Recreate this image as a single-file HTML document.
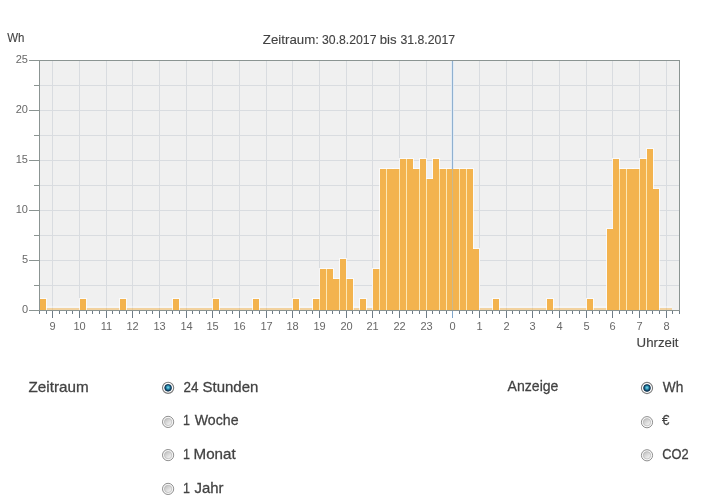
<!DOCTYPE html>
<html><head><meta charset="utf-8"><style>
html,body{margin:0;padding:0;background:#fff;width:716px;height:504px;overflow:hidden}
svg{display:block;will-change:transform;font-family:"Liberation Sans",sans-serif}
</style></head><body>
<svg width="716" height="504" viewBox="0 0 716 504">
<defs>
<radialGradient id="rsel" cx="0.5" cy="0.45" r="0.55"><stop offset="0" stop-color="#86dcec"/><stop offset="0.35" stop-color="#3aa3c2"/><stop offset="0.7" stop-color="#15587c"/><stop offset="1" stop-color="#0a3050"/></radialGradient>
<linearGradient id="runs" x1="0.2" y1="0.1" x2="0.8" y2="0.9"><stop offset="0" stop-color="#c4c4c4"/><stop offset="1" stop-color="#f4f4f4"/></linearGradient>
</defs>
<rect x="39" y="60" width="640" height="250" fill="#f0f0f0" />
<rect x="39" y="285" width="640" height="1" fill="#d9dce0" />
<rect x="39" y="260" width="640" height="1" fill="#d9dce0" />
<rect x="39" y="235" width="640" height="1" fill="#d9dce0" />
<rect x="39" y="210" width="640" height="1" fill="#d9dce0" />
<rect x="39" y="185" width="640" height="1" fill="#d9dce0" />
<rect x="39" y="160" width="640" height="1" fill="#d9dce0" />
<rect x="39" y="135" width="640" height="1" fill="#d9dce0" />
<rect x="39" y="110" width="640" height="1" fill="#d9dce0" />
<rect x="39" y="85" width="640" height="1" fill="#d9dce0" />
<rect x="52" y="60" width="1" height="250" fill="#d9dce0" />
<rect x="79" y="60" width="1" height="250" fill="#d9dce0" />
<rect x="106" y="60" width="1" height="250" fill="#d9dce0" />
<rect x="132" y="60" width="1" height="250" fill="#d9dce0" />
<rect x="159" y="60" width="1" height="250" fill="#d9dce0" />
<rect x="186" y="60" width="1" height="250" fill="#d9dce0" />
<rect x="212" y="60" width="1" height="250" fill="#d9dce0" />
<rect x="239" y="60" width="1" height="250" fill="#d9dce0" />
<rect x="266" y="60" width="1" height="250" fill="#d9dce0" />
<rect x="292" y="60" width="1" height="250" fill="#d9dce0" />
<rect x="319" y="60" width="1" height="250" fill="#d9dce0" />
<rect x="346" y="60" width="1" height="250" fill="#d9dce0" />
<rect x="372" y="60" width="1" height="250" fill="#d9dce0" />
<rect x="399" y="60" width="1" height="250" fill="#d9dce0" />
<rect x="426" y="60" width="1" height="250" fill="#d9dce0" />
<rect x="452" y="60" width="1" height="250" fill="#d9dce0" />
<rect x="479" y="60" width="1" height="250" fill="#d9dce0" />
<rect x="506" y="60" width="1" height="250" fill="#d9dce0" />
<rect x="532" y="60" width="1" height="250" fill="#d9dce0" />
<rect x="559" y="60" width="1" height="250" fill="#d9dce0" />
<rect x="586" y="60" width="1" height="250" fill="#d9dce0" />
<rect x="612" y="60" width="1" height="250" fill="#d9dce0" />
<rect x="639" y="60" width="1" height="250" fill="#d9dce0" />
<rect x="666" y="60" width="1" height="250" fill="#d9dce0" />
<rect x="40" y="306" width="632" height="2" fill="#ffffff" fill-opacity="0.35"/>
<rect x="40" y="308" width="632" height="2" fill="#f3b34e" fill-opacity="0.5"/>
<rect x="39" y="298" width="8" height="12" fill="#ffffff" fill-opacity="0.75"/>
<rect x="79" y="298" width="8" height="12" fill="#ffffff" fill-opacity="0.75"/>
<rect x="119" y="298" width="8" height="12" fill="#ffffff" fill-opacity="0.75"/>
<rect x="172" y="298" width="8" height="12" fill="#ffffff" fill-opacity="0.75"/>
<rect x="212" y="298" width="8" height="12" fill="#ffffff" fill-opacity="0.75"/>
<rect x="252" y="298" width="8" height="12" fill="#ffffff" fill-opacity="0.75"/>
<rect x="292" y="298" width="8" height="12" fill="#ffffff" fill-opacity="0.75"/>
<rect x="312" y="298" width="8" height="12" fill="#ffffff" fill-opacity="0.75"/>
<rect x="319" y="268" width="8" height="42" fill="#ffffff" fill-opacity="0.75"/>
<rect x="326" y="268" width="8" height="42" fill="#ffffff" fill-opacity="0.75"/>
<rect x="332" y="278" width="8" height="32" fill="#ffffff" fill-opacity="0.75"/>
<rect x="339" y="258" width="8" height="52" fill="#ffffff" fill-opacity="0.75"/>
<rect x="346" y="278" width="8" height="32" fill="#ffffff" fill-opacity="0.75"/>
<rect x="359" y="298" width="8" height="12" fill="#ffffff" fill-opacity="0.75"/>
<rect x="372" y="268" width="8" height="42" fill="#ffffff" fill-opacity="0.75"/>
<rect x="379" y="168" width="8" height="142" fill="#ffffff" fill-opacity="0.75"/>
<rect x="386" y="168" width="8" height="142" fill="#ffffff" fill-opacity="0.75"/>
<rect x="392" y="168" width="8" height="142" fill="#ffffff" fill-opacity="0.75"/>
<rect x="399" y="158" width="8" height="152" fill="#ffffff" fill-opacity="0.75"/>
<rect x="406" y="158" width="8" height="152" fill="#ffffff" fill-opacity="0.75"/>
<rect x="412" y="168" width="8" height="142" fill="#ffffff" fill-opacity="0.75"/>
<rect x="419" y="158" width="8" height="152" fill="#ffffff" fill-opacity="0.75"/>
<rect x="426" y="178" width="8" height="132" fill="#ffffff" fill-opacity="0.75"/>
<rect x="432" y="158" width="8" height="152" fill="#ffffff" fill-opacity="0.75"/>
<rect x="439" y="168" width="8" height="142" fill="#ffffff" fill-opacity="0.75"/>
<rect x="446" y="168" width="8" height="142" fill="#ffffff" fill-opacity="0.75"/>
<rect x="452" y="168" width="8" height="142" fill="#ffffff" fill-opacity="0.75"/>
<rect x="459" y="168" width="8" height="142" fill="#ffffff" fill-opacity="0.75"/>
<rect x="466" y="168" width="8" height="142" fill="#ffffff" fill-opacity="0.75"/>
<rect x="472" y="248" width="8" height="62" fill="#ffffff" fill-opacity="0.75"/>
<rect x="492" y="298" width="8" height="12" fill="#ffffff" fill-opacity="0.75"/>
<rect x="546" y="298" width="8" height="12" fill="#ffffff" fill-opacity="0.75"/>
<rect x="586" y="298" width="8" height="12" fill="#ffffff" fill-opacity="0.75"/>
<rect x="606" y="228" width="8" height="82" fill="#ffffff" fill-opacity="0.75"/>
<rect x="612" y="158" width="8" height="152" fill="#ffffff" fill-opacity="0.75"/>
<rect x="619" y="168" width="8" height="142" fill="#ffffff" fill-opacity="0.75"/>
<rect x="626" y="168" width="8" height="142" fill="#ffffff" fill-opacity="0.75"/>
<rect x="632" y="168" width="8" height="142" fill="#ffffff" fill-opacity="0.75"/>
<rect x="639" y="158" width="8" height="152" fill="#ffffff" fill-opacity="0.75"/>
<rect x="646" y="148" width="8" height="162" fill="#ffffff" fill-opacity="0.75"/>
<rect x="652" y="188" width="8" height="122" fill="#ffffff" fill-opacity="0.75"/>
<rect x="40" y="299" width="6" height="11" fill="#f3b34e" />
<rect x="80" y="299" width="6" height="11" fill="#f3b34e" />
<rect x="120" y="299" width="6" height="11" fill="#f3b34e" />
<rect x="173" y="299" width="6" height="11" fill="#f3b34e" />
<rect x="213" y="299" width="6" height="11" fill="#f3b34e" />
<rect x="253" y="299" width="6" height="11" fill="#f3b34e" />
<rect x="293" y="299" width="6" height="11" fill="#f3b34e" />
<rect x="313" y="299" width="6" height="11" fill="#f3b34e" />
<rect x="320" y="269" width="6" height="41" fill="#f3b34e" />
<rect x="327" y="269" width="6" height="41" fill="#f3b34e" />
<rect x="333" y="279" width="6" height="31" fill="#f3b34e" />
<rect x="340" y="259" width="6" height="51" fill="#f3b34e" />
<rect x="347" y="279" width="6" height="31" fill="#f3b34e" />
<rect x="360" y="299" width="6" height="11" fill="#f3b34e" />
<rect x="373" y="269" width="6" height="41" fill="#f3b34e" />
<rect x="380" y="169" width="6" height="141" fill="#f3b34e" />
<rect x="387" y="169" width="6" height="141" fill="#f3b34e" />
<rect x="393" y="169" width="6" height="141" fill="#f3b34e" />
<rect x="400" y="159" width="6" height="151" fill="#f3b34e" />
<rect x="407" y="159" width="6" height="151" fill="#f3b34e" />
<rect x="413" y="169" width="6" height="141" fill="#f3b34e" />
<rect x="420" y="159" width="6" height="151" fill="#f3b34e" />
<rect x="427" y="179" width="6" height="131" fill="#f3b34e" />
<rect x="433" y="159" width="6" height="151" fill="#f3b34e" />
<rect x="440" y="169" width="6" height="141" fill="#f3b34e" />
<rect x="447" y="169" width="6" height="141" fill="#f3b34e" />
<rect x="453" y="169" width="6" height="141" fill="#f3b34e" />
<rect x="460" y="169" width="6" height="141" fill="#f3b34e" />
<rect x="467" y="169" width="6" height="141" fill="#f3b34e" />
<rect x="473" y="249" width="6" height="61" fill="#f3b34e" />
<rect x="493" y="299" width="6" height="11" fill="#f3b34e" />
<rect x="547" y="299" width="6" height="11" fill="#f3b34e" />
<rect x="587" y="299" width="6" height="11" fill="#f3b34e" />
<rect x="607" y="229" width="6" height="81" fill="#f3b34e" />
<rect x="613" y="159" width="6" height="151" fill="#f3b34e" />
<rect x="620" y="169" width="6" height="141" fill="#f3b34e" />
<rect x="627" y="169" width="6" height="141" fill="#f3b34e" />
<rect x="633" y="169" width="6" height="141" fill="#f3b34e" />
<rect x="640" y="159" width="6" height="151" fill="#f3b34e" />
<rect x="647" y="149" width="6" height="161" fill="#f3b34e" />
<rect x="653" y="189" width="6" height="121" fill="#f3b34e" />
<rect x="319" y="299" width="1" height="11" fill="#fde8b4" />
<rect x="326" y="269" width="1" height="41" fill="#fde8b4" />
<rect x="339" y="279" width="1" height="31" fill="#fde8b4" />
<rect x="346" y="279" width="1" height="31" fill="#fde8b4" />
<rect x="379" y="269" width="1" height="41" fill="#fde8b4" />
<rect x="386" y="169" width="1" height="141" fill="#fde8b4" />
<rect x="399" y="169" width="1" height="141" fill="#fde8b4" />
<rect x="406" y="159" width="1" height="151" fill="#fde8b4" />
<rect x="419" y="169" width="1" height="141" fill="#fde8b4" />
<rect x="426" y="179" width="1" height="131" fill="#fde8b4" />
<rect x="439" y="169" width="1" height="141" fill="#fde8b4" />
<rect x="446" y="169" width="1" height="141" fill="#fde8b4" />
<rect x="459" y="169" width="1" height="141" fill="#fde8b4" />
<rect x="466" y="169" width="1" height="141" fill="#fde8b4" />
<rect x="619" y="169" width="1" height="141" fill="#fde8b4" />
<rect x="626" y="169" width="1" height="141" fill="#fde8b4" />
<rect x="639" y="169" width="1" height="141" fill="#fde8b4" />
<rect x="646" y="159" width="1" height="151" fill="#fde8b4" />
<rect x="451" y="61" width="1" height="108" fill="#dfeaf5" fill-opacity="0.8"/>
<rect x="453" y="61" width="1" height="108" fill="#dfeaf5" fill-opacity="0.8"/>
<rect x="452" y="60" width="1" height="109" fill="#8fb0d0" />
<rect x="452" y="169" width="1" height="141" fill="#c9b88e" />
<rect x="39" y="60" width="641" height="1" fill="#8b9492" />
<rect x="679" y="60" width="1" height="254" fill="#8b9492" />
<rect x="39" y="60" width="1" height="254" fill="#8b9492" />
<rect x="39" y="310" width="641" height="1" fill="#8b9492" />
<rect x="29" y="310" width="10" height="1" fill="#8b9492" />
<text x="28" y="312.8" text-anchor="end" font-size="11" fill="#686868" font-family="Liberation Sans, sans-serif">0</text>
<rect x="34" y="285" width="5" height="1" fill="#8b9492" />
<rect x="29" y="260" width="10" height="1" fill="#8b9492" />
<text x="28" y="262.8" text-anchor="end" font-size="11" fill="#686868" font-family="Liberation Sans, sans-serif">5</text>
<rect x="34" y="235" width="5" height="1" fill="#8b9492" />
<rect x="29" y="210" width="10" height="1" fill="#8b9492" />
<text x="28" y="212.8" text-anchor="end" font-size="11" fill="#686868" font-family="Liberation Sans, sans-serif">10</text>
<rect x="34" y="185" width="5" height="1" fill="#8b9492" />
<rect x="29" y="160" width="10" height="1" fill="#8b9492" />
<text x="28" y="162.8" text-anchor="end" font-size="11" fill="#686868" font-family="Liberation Sans, sans-serif">15</text>
<rect x="34" y="135" width="5" height="1" fill="#8b9492" />
<rect x="29" y="110" width="10" height="1" fill="#8b9492" />
<text x="28" y="112.8" text-anchor="end" font-size="11" fill="#686868" font-family="Liberation Sans, sans-serif">20</text>
<rect x="34" y="85" width="5" height="1" fill="#8b9492" />
<rect x="29" y="60" width="10" height="1" fill="#8b9492" />
<text x="28" y="62.8" text-anchor="end" font-size="11" fill="#686868" font-family="Liberation Sans, sans-serif">25</text>
<rect x="39" y="311" width="1" height="3" fill="#6f7c87" />
<rect x="46" y="311" width="1" height="3" fill="#6f7c87" />
<rect x="52" y="311" width="1" height="7" fill="#6f7c87" />
<text x="52.50" y="329.5" text-anchor="middle" font-size="11" fill="#686868" font-family="Liberation Sans, sans-serif">9</text>
<rect x="59" y="311" width="1" height="3" fill="#6f7c87" />
<rect x="66" y="311" width="1" height="3" fill="#6f7c87" />
<rect x="72" y="311" width="1" height="3" fill="#6f7c87" />
<rect x="79" y="311" width="1" height="7" fill="#6f7c87" />
<text x="79.50" y="329.5" text-anchor="middle" font-size="11" fill="#686868" font-family="Liberation Sans, sans-serif">10</text>
<rect x="86" y="311" width="1" height="3" fill="#6f7c87" />
<rect x="92" y="311" width="1" height="3" fill="#6f7c87" />
<rect x="99" y="311" width="1" height="3" fill="#6f7c87" />
<rect x="106" y="311" width="1" height="7" fill="#6f7c87" />
<text x="106.50" y="329.5" text-anchor="middle" font-size="11" fill="#686868" font-family="Liberation Sans, sans-serif">11</text>
<rect x="112" y="311" width="1" height="3" fill="#6f7c87" />
<rect x="119" y="311" width="1" height="3" fill="#6f7c87" />
<rect x="126" y="311" width="1" height="3" fill="#6f7c87" />
<rect x="132" y="311" width="1" height="7" fill="#6f7c87" />
<text x="132.50" y="329.5" text-anchor="middle" font-size="11" fill="#686868" font-family="Liberation Sans, sans-serif">12</text>
<rect x="139" y="311" width="1" height="3" fill="#6f7c87" />
<rect x="146" y="311" width="1" height="3" fill="#6f7c87" />
<rect x="152" y="311" width="1" height="3" fill="#6f7c87" />
<rect x="159" y="311" width="1" height="7" fill="#6f7c87" />
<text x="159.50" y="329.5" text-anchor="middle" font-size="11" fill="#686868" font-family="Liberation Sans, sans-serif">13</text>
<rect x="166" y="311" width="1" height="3" fill="#6f7c87" />
<rect x="172" y="311" width="1" height="3" fill="#6f7c87" />
<rect x="179" y="311" width="1" height="3" fill="#6f7c87" />
<rect x="186" y="311" width="1" height="7" fill="#6f7c87" />
<text x="186.50" y="329.5" text-anchor="middle" font-size="11" fill="#686868" font-family="Liberation Sans, sans-serif">14</text>
<rect x="192" y="311" width="1" height="3" fill="#6f7c87" />
<rect x="199" y="311" width="1" height="3" fill="#6f7c87" />
<rect x="206" y="311" width="1" height="3" fill="#6f7c87" />
<rect x="212" y="311" width="1" height="7" fill="#6f7c87" />
<text x="212.50" y="329.5" text-anchor="middle" font-size="11" fill="#686868" font-family="Liberation Sans, sans-serif">15</text>
<rect x="219" y="311" width="1" height="3" fill="#6f7c87" />
<rect x="226" y="311" width="1" height="3" fill="#6f7c87" />
<rect x="232" y="311" width="1" height="3" fill="#6f7c87" />
<rect x="239" y="311" width="1" height="7" fill="#6f7c87" />
<text x="239.50" y="329.5" text-anchor="middle" font-size="11" fill="#686868" font-family="Liberation Sans, sans-serif">16</text>
<rect x="246" y="311" width="1" height="3" fill="#6f7c87" />
<rect x="252" y="311" width="1" height="3" fill="#6f7c87" />
<rect x="259" y="311" width="1" height="3" fill="#6f7c87" />
<rect x="266" y="311" width="1" height="7" fill="#6f7c87" />
<text x="266.50" y="329.5" text-anchor="middle" font-size="11" fill="#686868" font-family="Liberation Sans, sans-serif">17</text>
<rect x="272" y="311" width="1" height="3" fill="#6f7c87" />
<rect x="279" y="311" width="1" height="3" fill="#6f7c87" />
<rect x="286" y="311" width="1" height="3" fill="#6f7c87" />
<rect x="292" y="311" width="1" height="7" fill="#6f7c87" />
<text x="292.50" y="329.5" text-anchor="middle" font-size="11" fill="#686868" font-family="Liberation Sans, sans-serif">18</text>
<rect x="299" y="311" width="1" height="3" fill="#6f7c87" />
<rect x="306" y="311" width="1" height="3" fill="#6f7c87" />
<rect x="312" y="311" width="1" height="3" fill="#6f7c87" />
<rect x="319" y="311" width="1" height="7" fill="#6f7c87" />
<text x="319.50" y="329.5" text-anchor="middle" font-size="11" fill="#686868" font-family="Liberation Sans, sans-serif">19</text>
<rect x="326" y="311" width="1" height="3" fill="#6f7c87" />
<rect x="332" y="311" width="1" height="3" fill="#6f7c87" />
<rect x="339" y="311" width="1" height="3" fill="#6f7c87" />
<rect x="346" y="311" width="1" height="7" fill="#6f7c87" />
<text x="346.50" y="329.5" text-anchor="middle" font-size="11" fill="#686868" font-family="Liberation Sans, sans-serif">20</text>
<rect x="352" y="311" width="1" height="3" fill="#6f7c87" />
<rect x="359" y="311" width="1" height="3" fill="#6f7c87" />
<rect x="366" y="311" width="1" height="3" fill="#6f7c87" />
<rect x="372" y="311" width="1" height="7" fill="#6f7c87" />
<text x="372.50" y="329.5" text-anchor="middle" font-size="11" fill="#686868" font-family="Liberation Sans, sans-serif">21</text>
<rect x="379" y="311" width="1" height="3" fill="#6f7c87" />
<rect x="386" y="311" width="1" height="3" fill="#6f7c87" />
<rect x="392" y="311" width="1" height="3" fill="#6f7c87" />
<rect x="399" y="311" width="1" height="7" fill="#6f7c87" />
<text x="399.50" y="329.5" text-anchor="middle" font-size="11" fill="#686868" font-family="Liberation Sans, sans-serif">22</text>
<rect x="406" y="311" width="1" height="3" fill="#6f7c87" />
<rect x="412" y="311" width="1" height="3" fill="#6f7c87" />
<rect x="419" y="311" width="1" height="3" fill="#6f7c87" />
<rect x="426" y="311" width="1" height="7" fill="#6f7c87" />
<text x="426.50" y="329.5" text-anchor="middle" font-size="11" fill="#686868" font-family="Liberation Sans, sans-serif">23</text>
<rect x="432" y="311" width="1" height="3" fill="#6f7c87" />
<rect x="439" y="311" width="1" height="3" fill="#6f7c87" />
<rect x="446" y="311" width="1" height="3" fill="#6f7c87" />
<rect x="452" y="311" width="1" height="7" fill="#7fa6cc" />
<text x="452.50" y="329.5" text-anchor="middle" font-size="11" fill="#686868" font-family="Liberation Sans, sans-serif">0</text>
<rect x="459" y="311" width="1" height="3" fill="#6f7c87" />
<rect x="466" y="311" width="1" height="3" fill="#6f7c87" />
<rect x="472" y="311" width="1" height="3" fill="#6f7c87" />
<rect x="479" y="311" width="1" height="7" fill="#6f7c87" />
<text x="479.50" y="329.5" text-anchor="middle" font-size="11" fill="#686868" font-family="Liberation Sans, sans-serif">1</text>
<rect x="486" y="311" width="1" height="3" fill="#6f7c87" />
<rect x="492" y="311" width="1" height="3" fill="#6f7c87" />
<rect x="499" y="311" width="1" height="3" fill="#6f7c87" />
<rect x="506" y="311" width="1" height="7" fill="#6f7c87" />
<text x="506.50" y="329.5" text-anchor="middle" font-size="11" fill="#686868" font-family="Liberation Sans, sans-serif">2</text>
<rect x="512" y="311" width="1" height="3" fill="#6f7c87" />
<rect x="519" y="311" width="1" height="3" fill="#6f7c87" />
<rect x="526" y="311" width="1" height="3" fill="#6f7c87" />
<rect x="532" y="311" width="1" height="7" fill="#6f7c87" />
<text x="532.50" y="329.5" text-anchor="middle" font-size="11" fill="#686868" font-family="Liberation Sans, sans-serif">3</text>
<rect x="539" y="311" width="1" height="3" fill="#6f7c87" />
<rect x="546" y="311" width="1" height="3" fill="#6f7c87" />
<rect x="552" y="311" width="1" height="3" fill="#6f7c87" />
<rect x="559" y="311" width="1" height="7" fill="#6f7c87" />
<text x="559.50" y="329.5" text-anchor="middle" font-size="11" fill="#686868" font-family="Liberation Sans, sans-serif">4</text>
<rect x="566" y="311" width="1" height="3" fill="#6f7c87" />
<rect x="572" y="311" width="1" height="3" fill="#6f7c87" />
<rect x="579" y="311" width="1" height="3" fill="#6f7c87" />
<rect x="586" y="311" width="1" height="7" fill="#6f7c87" />
<text x="586.50" y="329.5" text-anchor="middle" font-size="11" fill="#686868" font-family="Liberation Sans, sans-serif">5</text>
<rect x="592" y="311" width="1" height="3" fill="#6f7c87" />
<rect x="599" y="311" width="1" height="3" fill="#6f7c87" />
<rect x="606" y="311" width="1" height="3" fill="#6f7c87" />
<rect x="612" y="311" width="1" height="7" fill="#6f7c87" />
<text x="612.50" y="329.5" text-anchor="middle" font-size="11" fill="#686868" font-family="Liberation Sans, sans-serif">6</text>
<rect x="619" y="311" width="1" height="3" fill="#6f7c87" />
<rect x="626" y="311" width="1" height="3" fill="#6f7c87" />
<rect x="632" y="311" width="1" height="3" fill="#6f7c87" />
<rect x="639" y="311" width="1" height="7" fill="#6f7c87" />
<text x="639.50" y="329.5" text-anchor="middle" font-size="11" fill="#686868" font-family="Liberation Sans, sans-serif">7</text>
<rect x="646" y="311" width="1" height="3" fill="#6f7c87" />
<rect x="652" y="311" width="1" height="3" fill="#6f7c87" />
<rect x="659" y="311" width="1" height="3" fill="#6f7c87" />
<rect x="666" y="311" width="1" height="7" fill="#6f7c87" />
<text x="666.50" y="329.5" text-anchor="middle" font-size="11" fill="#686868" font-family="Liberation Sans, sans-serif">8</text>
<rect x="672" y="311" width="1" height="3" fill="#6f7c87" />
<rect x="679" y="311" width="1" height="3" fill="#6f7c87" />
<text x="262.88" y="44" font-size="13" fill="#424242" textLength="56.03" lengthAdjust="spacingAndGlyphs" stroke="#424242" stroke-width="0.12" font-family="Liberation Sans, sans-serif">Zeitraum:</text>
<text x="322.03" y="44" font-size="13" fill="#424242" textLength="54.48" lengthAdjust="spacingAndGlyphs" stroke="#424242" stroke-width="0.12" font-family="Liberation Sans, sans-serif">30.8.2017</text>
<text x="379.75" y="44" font-size="13" fill="#424242" textLength="16.82" lengthAdjust="spacingAndGlyphs" stroke="#424242" stroke-width="0.12" font-family="Liberation Sans, sans-serif">bis</text>
<text x="400.43" y="44" font-size="13" fill="#424242" textLength="54.69" lengthAdjust="spacingAndGlyphs" stroke="#424242" stroke-width="0.12" font-family="Liberation Sans, sans-serif">31.8.2017</text>
<text x="7.25" y="42" font-size="12.5" fill="#424242" textLength="17.19" lengthAdjust="spacingAndGlyphs" stroke="#424242" stroke-width="0.12" font-family="Liberation Sans, sans-serif">Wh</text>
<text x="636.58" y="346.6" font-size="12.5" fill="#424242" textLength="41.92" lengthAdjust="spacingAndGlyphs" stroke="#424242" stroke-width="0.12" font-family="Liberation Sans, sans-serif">Uhrzeit</text>
<text x="28.52" y="391.8" font-size="15" fill="#424242" textLength="60.09" lengthAdjust="spacingAndGlyphs" stroke="#424242" stroke-width="0.28" font-family="Liberation Sans, sans-serif">Zeitraum</text>
<text x="507.57" y="391.4" font-size="15" fill="#424242" textLength="50.85" lengthAdjust="spacingAndGlyphs" stroke="#424242" stroke-width="0.28" font-family="Liberation Sans, sans-serif">Anzeige</text>
<circle cx="168.1" cy="387.8" r="5.6" fill="#fff" stroke="#7d7d7d" stroke-width="1.1"/><circle cx="168.1" cy="387.8" r="3.4" fill="url(#rsel)" stroke="#0b2f4c" stroke-width="0.8"/>
<circle cx="168.1" cy="421.9" r="5.6" fill="#fafafa" stroke="#8e8e8e" stroke-width="1"/><circle cx="168.1" cy="421.9" r="3.7" fill="url(#runs)" stroke="#b4b4b4" stroke-width="0.7"/>
<circle cx="168.1" cy="455.1" r="5.6" fill="#fafafa" stroke="#8e8e8e" stroke-width="1"/><circle cx="168.1" cy="455.1" r="3.7" fill="url(#runs)" stroke="#b4b4b4" stroke-width="0.7"/>
<circle cx="168.1" cy="488.9" r="5.6" fill="#fafafa" stroke="#8e8e8e" stroke-width="1"/><circle cx="168.1" cy="488.9" r="3.7" fill="url(#runs)" stroke="#b4b4b4" stroke-width="0.7"/>
<circle cx="647" cy="388.0" r="5.6" fill="#fff" stroke="#7d7d7d" stroke-width="1.1"/><circle cx="647" cy="388.0" r="3.4" fill="url(#rsel)" stroke="#0b2f4c" stroke-width="0.8"/>
<circle cx="647" cy="422.2" r="5.6" fill="#fafafa" stroke="#8e8e8e" stroke-width="1"/><circle cx="647" cy="422.2" r="3.7" fill="url(#runs)" stroke="#b4b4b4" stroke-width="0.7"/>
<circle cx="647" cy="455.3" r="5.6" fill="#fafafa" stroke="#8e8e8e" stroke-width="1"/><circle cx="647" cy="455.3" r="3.7" fill="url(#runs)" stroke="#b4b4b4" stroke-width="0.7"/>
<text x="183.52" y="391.6" font-size="15" fill="#424242" textLength="14.97" lengthAdjust="spacingAndGlyphs" stroke="#424242" stroke-width="0.28" font-family="Liberation Sans, sans-serif">24</text>
<text x="202.52" y="391.6" font-size="15" fill="#424242" textLength="55.85" lengthAdjust="spacingAndGlyphs" stroke="#424242" stroke-width="0.28" font-family="Liberation Sans, sans-serif">Stunden</text>
<text x="183.05" y="424.8" font-size="15" fill="#424242" textLength="6.97" lengthAdjust="spacingAndGlyphs" stroke="#424242" stroke-width="0.28" font-family="Liberation Sans, sans-serif">1</text>
<text x="194.74" y="424.8" font-size="15" fill="#424242" textLength="43.79" lengthAdjust="spacingAndGlyphs" stroke="#424242" stroke-width="0.28" font-family="Liberation Sans, sans-serif">Woche</text>
<text x="183.05" y="458.8" font-size="15" fill="#424242" textLength="6.97" lengthAdjust="spacingAndGlyphs" stroke="#424242" stroke-width="0.28" font-family="Liberation Sans, sans-serif">1</text>
<text x="193.56" y="458.8" font-size="15" fill="#424242" textLength="42.16" lengthAdjust="spacingAndGlyphs" stroke="#424242" stroke-width="0.28" font-family="Liberation Sans, sans-serif">Monat</text>
<text x="183.05" y="492.9" font-size="15" fill="#424242" textLength="6.97" lengthAdjust="spacingAndGlyphs" stroke="#424242" stroke-width="0.28" font-family="Liberation Sans, sans-serif">1</text>
<text x="194.57" y="492.9" font-size="15" fill="#424242" textLength="28.98" lengthAdjust="spacingAndGlyphs" stroke="#424242" stroke-width="0.28" font-family="Liberation Sans, sans-serif">Jahr</text>
<text x="662.74" y="391.7" font-size="15" fill="#424242" textLength="20.55" lengthAdjust="spacingAndGlyphs" stroke="#424242" stroke-width="0.28" font-family="Liberation Sans, sans-serif">Wh</text>
<text x="662.1" y="424.6" font-size="15" fill="#424242" textLength="7.39" lengthAdjust="spacingAndGlyphs" stroke="#424242" stroke-width="0.28" font-family="Liberation Sans, sans-serif">€</text>
<text x="662.15" y="459.0" font-size="15" fill="#424242" textLength="26.4" lengthAdjust="spacingAndGlyphs" stroke="#424242" stroke-width="0.28" font-family="Liberation Sans, sans-serif">CO2</text>
</svg>
</body></html>
